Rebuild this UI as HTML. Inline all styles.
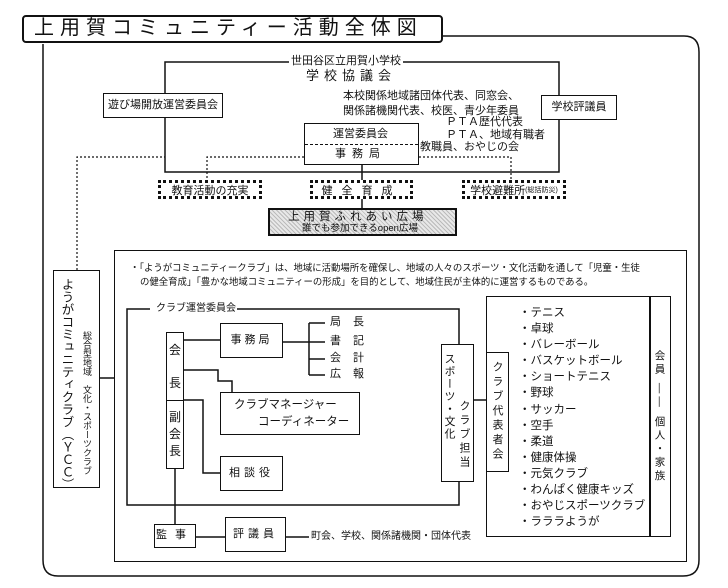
<!DOCTYPE html>
<html><head><meta charset="utf-8"><style>
body{margin:0;width:728px;height:588px;background:#fff;position:relative;overflow:hidden;font-family:"Liberation Sans","Noto Sans CJK JP",sans-serif;color:#111}
.a{position:absolute;box-sizing:border-box}
.b{border:1.5px solid #111;background:#fff}
.t{position:absolute;white-space:nowrap;font-size:11px;line-height:1}
.v{writing-mode:vertical-rl;white-space:nowrap;position:absolute;line-height:1}
.d{border:3px dotted #111;background:#fff;display:flex;align-items:center;justify-content:center;font-size:11px}
</style></head><body>
<svg class="a" style="left:0;top:0" width="728" height="588">
<g fill="none" stroke="#111" stroke-width="1.5">
<path d="M443 36 H684 Q699 36 699 52 V560 Q699 576 683 576 H58 Q43 576 43 560 V44"/>
<rect x="165" y="62" width="394" height="110"/>
<line x1="362" y1="165" x2="362" y2="208"/>
<line x1="100" y1="378" x2="114" y2="378"/>
<path d="M183 340 H220"/>
<path d="M283 342 H309 M309 323 V375 M309 323 H325 M309 342 H325 M309 359 H325 M309 375 H325"/>
<path d="M183 370 H218 V381 H232 V392"/>
<path d="M183 400 H203 V473 H220"/>
<line x1="175" y1="469" x2="175" y2="524"/>
<path d="M196 537 H225 M286 537 H309"/>
<path d="M474 400 H486"/>
</g>
<g fill="none" stroke="#111" stroke-width="1.2" stroke-dasharray="2,2">
<path d="M77 270 V157 H165"/>
<path d="M304 157 H207 V180"/>
<path d="M419 157 H511 V180"/>
</g>
<path d="M150 309 H127 V505 H459 V482 M459 344 V309 H237" fill="none" stroke="#111" stroke-width="1.5"/>
</svg>
<div class="a b" style="left:22px;top:15px;width:421px;height:28px;border-radius:4px;border-width:2px"></div>
<div class="t" style="left:34px;top:18px;font-size:20px;letter-spacing:6px">上用賀コミュニティー活動全体図</div>
<div class="t" style="left:289px;top:56px;background:#fff;padding:0 2px;font-size:11px">世田谷区立用賀小学校</div>
<div class="t" style="left:306px;top:69px;font-size:13px;letter-spacing:5px">学校協議会</div>
<div class="a b" style="left:103px;top:93px;width:120px;height:25px;font-size:11px;text-align:center;line-height:22px">遊び場開放運営委員会</div>
<div class="a b" style="left:541px;top:95px;width:76px;height:25px;font-size:11px;text-align:center;line-height:22px">学校評議員</div>
<div class="t" style="left:343px;top:91px;font-size:11px">本校関係地域諸団体代表、同窓会、</div>
<div class="t" style="left:343px;top:106px;font-size:11px">関係諸機関代表、校医、青少年委員</div>
<div class="t" style="left:446px;top:117px;font-size:11px">ＰＴＡ歴代代表</div>
<div class="t" style="left:446px;top:130px;font-size:11px">ＰＴＡ、地域有職者</div>
<div class="t" style="left:420px;top:142px;font-size:11px">教職員、おやじの会</div>
<div class="a b" style="left:304px;top:123px;width:115px;height:42px">
<div style="position:absolute;left:0;right:0;top:20px;border-top:1.2px dashed #111"></div>
<div class="t" style="left:28px;top:5px">運営委員会</div>
<div class="t" style="left:30px;top:25px;letter-spacing:6px">事務局</div></div>
<div class="a d" style="left:158px;top:180px;width:104px;height:19px">教育活動の充実</div>
<div class="a d" style="left:310px;top:180px;width:103px;height:19px;letter-spacing:9px">健全育成</div>
<div class="a d" style="left:462px;top:180px;width:104px;height:19px">学校避難所<span style="font-size:7px">(総括防災)</span></div>
<div class="a" style="left:268px;top:208px;width:189px;height:28px;border:2.5px double #111;background:repeating-linear-gradient(45deg,#bbb 0 1px,#e8e8e8 1px 3px)">
<div class="t" style="left:18px;top:2px;font-size:11.5px;letter-spacing:4px">上用賀ふれあい広場</div>
<div class="t" style="left:32px;top:14px;font-size:9.5px">誰でも参加できるopen広場</div></div>
<div class="a b" style="left:114px;top:250px;width:573px;height:312px;background:transparent"></div>
<div class="t" style="left:130px;top:263px;font-size:9.4px">・「ようがコミュニティークラブ」は、地域に活動場所を確保し、地域の人々のスポーツ・文化活動を通して「児童・生徒</div>
<div class="t" style="left:140px;top:277px;font-size:9.4px">の健全育成」「豊かな地域コミュニティーの形成」を目的として、地域住民が主体的に運営するものである。</div>
<div class="a b" style="left:53px;top:270px;width:47px;height:218px">
<div class="v" style="left:6px;top:7px;font-size:12.5px">ようがコミュニティクラブ（ＹＣＣ）</div>
<div class="v" style="left:27px;top:60px;font-size:9px;line-height:12px">総合型地域　文化・スポーツクラブ</div></div>
<div class="t" style="left:156px;top:304px;font-size:10px">クラブ運営委員会</div>
<div class="a b" style="left:166px;top:332px;width:18px;height:137px">
<div style="position:absolute;left:0;right:0;top:67px;border-top:1.5px solid #111"></div>
<div class="t" style="left:2px;top:11px;font-size:12px">会</div>
<div class="t" style="left:2px;top:44px;font-size:12px">長</div>
<div class="t" style="left:2px;top:78px;font-size:12px">副</div>
<div class="t" style="left:2px;top:95px;font-size:12px">会</div>
<div class="t" style="left:2px;top:112px;font-size:12px">長</div></div>
<div class="a b" style="left:220px;top:323px;width:63px;height:35px;font-size:11px;text-align:center;line-height:32px;letter-spacing:3px">事務局</div>
<div class="t" style="left:330px;top:317px;font-size:11px;letter-spacing:12px">局長</div>
<div class="t" style="left:330px;top:336px;font-size:11px;letter-spacing:12px">書記</div>
<div class="t" style="left:330px;top:353px;font-size:11px;letter-spacing:12px">会計</div>
<div class="t" style="left:330px;top:369px;font-size:11px;letter-spacing:12px">広報</div>
<div class="a b" style="left:220px;top:392px;width:140px;height:43px">
<div class="t" style="left:13px;top:7px;font-size:11.5px">クラブマネージャー</div>
<div class="t" style="left:37px;top:24px;font-size:11.5px">コーディネーター</div></div>
<div class="a b" style="left:220px;top:456px;width:63px;height:35px;font-size:11px;text-align:center;line-height:32px;letter-spacing:4px">相談役</div>
<div class="a b" style="left:441px;top:344px;width:33px;height:138px"></div>
<div class="v" style="left:443px;top:353px;font-size:11px;letter-spacing:1.5px">スポーツ・文化</div>
<div class="v" style="left:458px;top:400px;font-size:11px;letter-spacing:3px">クラブ担当</div>
<div class="a b" style="left:486px;top:352px;width:23px;height:120px">
<div class="v" style="left:4px;top:8px;font-size:11px;letter-spacing:3.5px">クラブ代表者会</div></div>
<div class="a b" style="left:486px;top:296px;width:185px;height:241px;background:transparent"></div>
<div class="a" style="left:649px;top:296px;width:1.5px;height:241px;background:#111"></div>
<div class="v" style="left:654px;top:350px;font-size:10.5px;letter-spacing:3px">会員 ―― 個人・家族</div>
<div class="a" style="left:519px;top:305px;font-size:11.5px;line-height:16.1px;white-space:nowrap">・テニス<br>・卓球<br>・バレーボール<br>・バスケットボール<br>・ショートテニス<br>・野球<br>・サッカー<br>・空手<br>・柔道<br>・健康体操<br>・元気クラブ<br>・わんぱく健康キッズ<br>・おやじスポーツクラブ<br>・ラララようが</div>
<div class="a b" style="left:154px;top:524px;width:42px;height:24px;font-size:11px;text-align:center;line-height:21px;letter-spacing:8px">監事</div>
<div class="a b" style="left:225px;top:517px;width:61px;height:35px;font-size:11px;text-align:center;line-height:32px;letter-spacing:4px">評議員</div>
<div class="t" style="left:311px;top:532px;font-size:10px">町会、学校、関係諸機関・団体代表</div>
</body></html>
